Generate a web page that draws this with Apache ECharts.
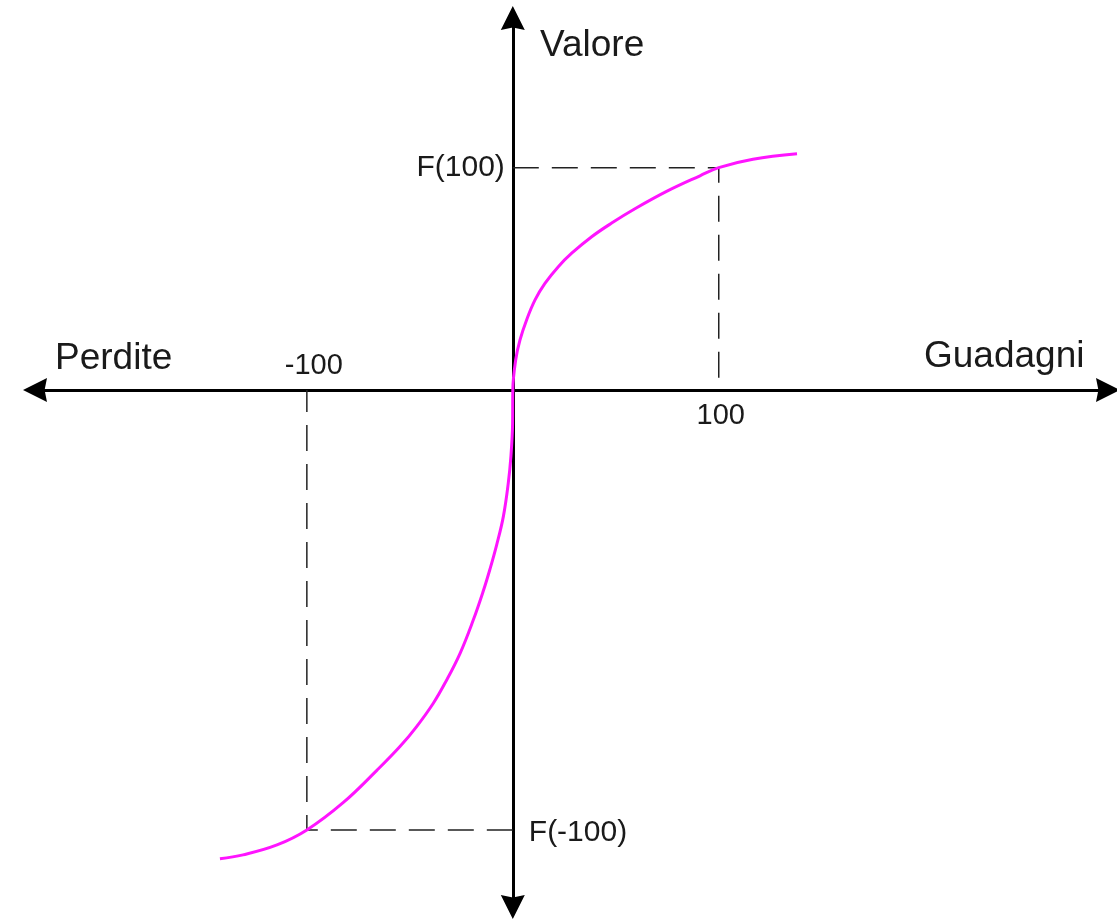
<!DOCTYPE html>
<html>
<head>
<meta charset="utf-8">
<title>Funzione del valore</title>
<script src="https://cdn.jsdelivr.net/npm/echarts@6/dist/echarts.min.js"></script>
<style>
  html, body { margin: 0; padding: 0; background: #fff; }
  #chart { width: 1117px; height: 921px; }
</style>
</head>
<body>
<div id="chart"></div>
<script>
// value function points (x = gains/losses, y = value)
var curveX = [-142.2, -131, -114.5, -100, -82.4, -65.9, -54.8, -46.7, -38.6, -32.6, -25.6, -19.2, -14.3, -11.1, -7.8, -4.6, -2.2, -0.9, -0.1, 0, 1.4, 3.5, 6.7, 10.8, 15.6, 22.1, 28.6, 38.3, 48, 59.3, 74.9, 90.9, 100, 116.6, 138];
var curveY = [-213.1, -211.3, -206.8, -200, -187.6, -172.8, -162.1, -153, -142.4, -132.7, -119.7, -104.6, -91.3, -81.5, -70.3, -57.6, -42.4, -30, -15.2, 0, 13.6, 22.7, 31.8, 40.9, 48.4, 56, 62.1, 69.6, 75.8, 82.3, 90.3, 97.3, 101, 104.8, 107.3];

var refX = [-100, 100];
var refY = [-200, 101];
var tickLabels = ['-100', '100'];
var valueLabels = ['F(-100)', 'F(100)'];

var axisTitles = ['Valore', 'Perdite', 'Guadagni'];

var ink = '#1a1a1a';
var font = '"Liberation Sans", Arial, sans-serif';
var arrow = 'path://M5,0 L10,10 L5,9 L0,10 Z';

var curve = curveX.map(function (x, i) { return [x, curveY[i]]; });

function guide(i) {
  return {
    type: 'line',
    silent: true,
    symbol: 'none',
    lineStyle: { color: '#222', width: 1.5, type: [26, 13] },
    data: [[0, refY[i]], [refX[i], refY[i]], [refX[i], 0]],
    z: 1
  };
}

var chart = echarts.init(document.getElementById('chart'), null, { renderer: 'canvas' });
chart.setOption({
  animation: false,
  backgroundColor: '#fff',
  grid: { left: 35, right: 9, top: 18, bottom: 14 },
  xAxis: {
    type: 'value',
    min: -232,
    max: 289,
    axisLine: {
      onZero: true,
      symbol: [arrow, arrow],
      symbolSize: [25, 24],
      lineStyle: { color: '#000', width: 3 }
    },
    axisTick: { show: false },
    axisLabel: { show: false },
    splitLine: { show: false }
  },
  yAxis: {
    type: 'value',
    min: -235,
    max: 169,
    axisLine: {
      onZero: true,
      symbol: [arrow, arrow],
      symbolSize: [25, 24],
      lineStyle: { color: '#000', width: 3 }
    },
    axisTick: { show: false },
    axisLabel: { show: false },
    splitLine: { show: false }
  },
  graphic: [
    { type: 'text', left: 540, top: 27, style: { text: axisTitles[0], font: '37px ' + font, fill: ink } },
    { type: 'text', left: 55, top: 340, style: { text: axisTitles[1], font: '37px ' + font, fill: ink } },
    { type: 'text', left: 924, top: 338, style: { text: axisTitles[2], font: '37px ' + font, fill: ink } }
  ],
  series: [
    guide(0),
    guide(1),
    {
      type: 'line',
      silent: true,
      symbol: 'none',
      smooth: 0.4,
      lineStyle: { color: '#ff14ff', width: 3 },
      data: curve,
      z: 3
    },
    {
      type: 'scatter',
      silent: true,
      symbolSize: 0,
      itemStyle: { opacity: 1 },
      label: { show: true, color: ink, fontFamily: font, fontSize: 29 },
      data: [
        { value: [refX[0], 0], label: { formatter: tickLabels[0], position: 'inside', offset: [7, -24] } },
        { value: [refX[1], 0], label: { formatter: tickLabels[1], position: 'inside', offset: [2, 26] } },
        { value: [0, refY[0]], label: { formatter: valueLabels[0], position: 'right', distance: 16, offset: [0, 3], fontSize: 30 } },
        { value: [0, refY[1]], label: { formatter: valueLabels[1], position: 'left', distance: 8, fontSize: 30 } }
      ],
      z: 4
    }
  ]
});
window.addEventListener('resize', function () { chart.resize(); });
</script>
</body>
</html>
